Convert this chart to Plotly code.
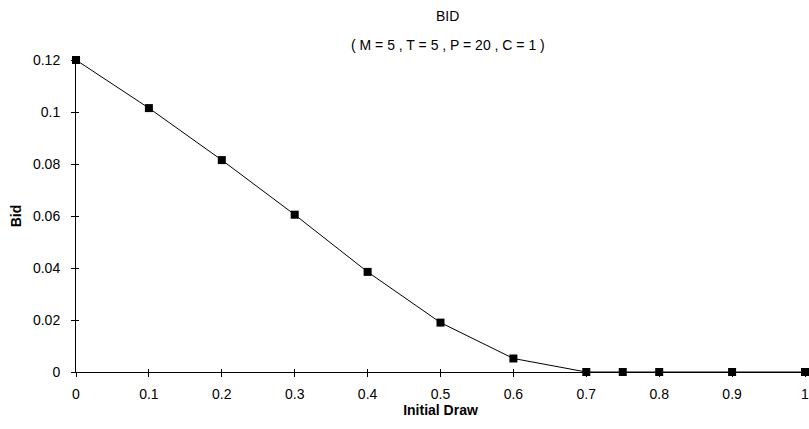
import plotly.graph_objects as go

initial_draw = [0.0, 0.1, 0.2, 0.3, 0.4, 0.5, 0.6, 0.7, 0.75, 0.8, 0.9, 1.0]
bid = [0.12, 0.1015, 0.0815, 0.0605, 0.0385, 0.019, 0.0052, 0.0, 0.0, 0.0, 0.0, 0.0]
x_ticks = [0, 0.1, 0.2, 0.3, 0.4, 0.5, 0.6, 0.7, 0.8, 0.9, 1]
x_tick_labels = ["0", "0.1", "0.2", "0.3", "0.4", "0.5", "0.6", "0.7", "0.8", "0.9", "1"]
y_ticks = [0, 0.02, 0.04, 0.06, 0.08, 0.1, 0.12]
y_tick_labels = ["0", "0.02", "0.04", "0.06", "0.08", "0.1", "0.12"]

FONT = "Liberation Sans, Arial, sans-serif"
FS = 14

fig = go.Figure()
fig.add_trace(go.Scatter(
    x=initial_draw, y=bid, mode="lines+markers",
    line=dict(color="black", width=1),
    marker=dict(symbol="square", size=8, color="black"),
    cliponaxis=False, showlegend=False,
))
# invisible trace on overlay axes to draw the inner half of the crossing ticks
fig.add_trace(go.Scatter(x=[], y=[], xaxis="x2", yaxis="y2", showlegend=False))

common = dict(showgrid=False, zeroline=False, tickcolor="black")

fig.update_layout(
    width=809, height=429,
    margin=dict(l=76, r=0, t=60, b=57),
    paper_bgcolor="white", plot_bgcolor="white",
    font=dict(family=FONT, size=FS, color="black"),
    xaxis=dict(
        range=[0, 1], tickvals=x_ticks, ticktext=x_tick_labels,
        showline=True, linecolor="black", linewidth=1,
        ticks="outside", ticklen=4, ticklabelstandoff=5,
        ticklabeloverflow="allow",
        tickfont=dict(size=FS),
        title=dict(text="<b>Initial Draw</b>", font=dict(size=FS), standoff=3),
        **common,
    ),
    yaxis=dict(
        range=[0, 0.12], tickvals=y_ticks, ticktext=y_tick_labels,
        showline=True, linecolor="black", linewidth=1,
        ticks="outside", ticklen=4, ticklabelstandoff=8,
        tickfont=dict(size=FS),
        title=dict(text="<b>Bid</b>", font=dict(size=FS), standoff=8),
        **common,
    ),
    xaxis2=dict(range=[0, 1], tickvals=x_ticks, overlaying="x", side="bottom",
                ticks="inside", ticklen=3, showticklabels=False, anchor="y2", **common),
    yaxis2=dict(range=[0, 0.12], tickvals=y_ticks, overlaying="y", side="left",
                ticks="inside", ticklen=3, showticklabels=False, anchor="x2", **common),
    annotations=[
        dict(text="BID", xref="paper", yref="paper", x=0.51, y=1.141,
             showarrow=False, font=dict(size=FS), xanchor="center", yanchor="middle"),
        dict(text="( M = 5 , T = 5 , P = 20 , C = 1 )", xref="paper", yref="paper",
             x=0.51, y=1.048, showarrow=False, font=dict(size=FS),
             xanchor="center", yanchor="middle"),
    ],
)

fig.write_html("out.html")
